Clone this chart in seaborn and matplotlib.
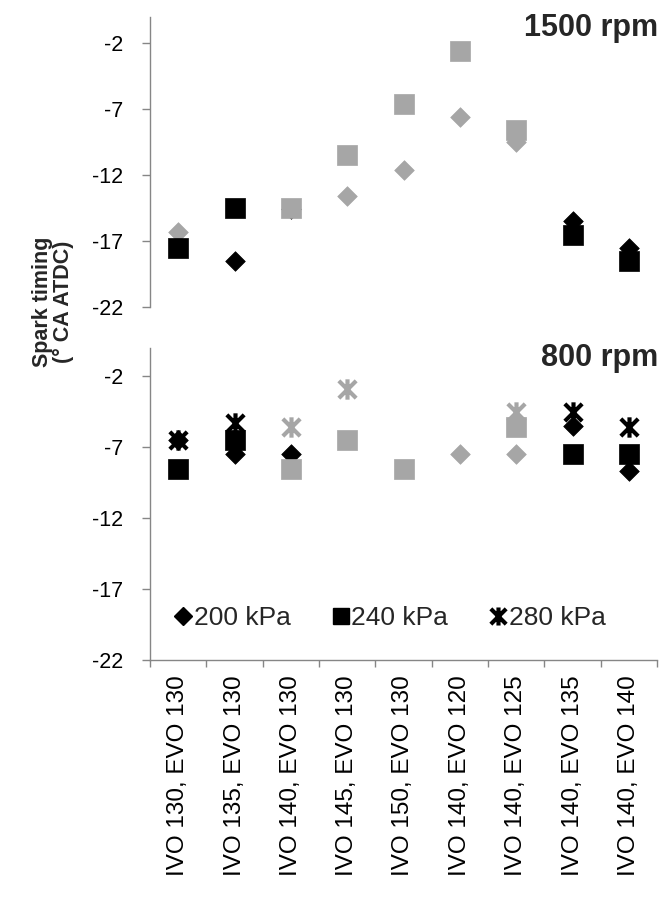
import numpy as np
import pandas as pd
import matplotlib
matplotlib.use("Agg")
import matplotlib.pyplot as plt
from matplotlib.path import Path
from matplotlib.lines import Line2D
import seaborn as sns

# ---------------- data ----------------
configs = ["IVO 130, EVO 130", "IVO 135, EVO 130", "IVO 140, EVO 130",
           "IVO 145, EVO 130", "IVO 150, EVO 130", "IVO 140, EVO 120",
           "IVO 140, EVO 125", "IVO 140, EVO 135", "IVO 140, EVO 140"]
pressures = ["200 kPa", "240 kPa", "280 kPa"]
nan = np.nan

# 1500 rpm
top_200_black = [nan, -18.5, -14.6, nan, nan, nan, nan, -15.5, -17.5]
top_200_gray = [-16.3, nan, nan, -13.6, -11.6, -7.6, -9.5, nan, nan]
top_240_black = [-17.5, -14.5, nan, nan, nan, nan, nan, -16.5, -18.5]
top_240_gray = [nan, nan, -14.5, -10.5, -6.6, -2.6, -8.6, nan, nan]
top_280_black = [nan] * 9
top_280_gray = [nan] * 9

# 800 rpm
bot_200_black = [-6.5, -7.5, -7.5, nan, nan, nan, nan, -5.5, -8.7]
bot_200_gray = [nan, nan, nan, nan, nan, -7.5, -7.5, nan, nan]
bot_240_black = [-8.5, -6.5, nan, nan, nan, nan, nan, -7.5, -7.5]
bot_240_gray = [nan, nan, -8.5, -6.5, -8.5, nan, -5.6, nan, nan]
bot_280_black = [-6.5, -5.3, nan, nan, nan, nan, nan, -4.5, -5.6]
bot_280_gray = [nan, nan, -5.6, -2.9, nan, nan, -4.5, nan, nan]

yticks = [-22, -17, -12, -7, -2]
panel_titles = ["1500 rpm", "800 rpm"]

# ---------------- styling ----------------
sns.set_theme(style="white")
plt.rcParams["font.family"] = ["Liberation Sans", "DejaVu Sans"]

BLACK = "#000000"
GRAY = "#A6A6A6"
AXC = "#868686"

star = Path([(0, -1), (0, 1), (-0.85, -0.85), (0.85, 0.85), (-0.85, 0.85), (0.85, -0.85)],
            [Path.MOVETO, Path.LINETO, Path.MOVETO, Path.LINETO, Path.MOVETO, Path.LINETO])

marker_of = {"200 kPa": "D", "240 kPa": "s", "280 kPa": star}
size_of = {"200 kPa": 100, "240 kPa": 215, "280 kPa": 215}
lw_of = {"200 kPa": 0.5, "240 kPa": 0.5, "280 kPa": 3.0}

def build(rows):
    recs = []
    for press, shade, vals in rows:
        for i, v in enumerate(vals):
            if not np.isnan(v):
                recs.append({"config": configs[i], "pos": i, "value": v,
                             "pressure": press, "shade": shade})
    return pd.DataFrame(recs)

top_df = build([("200 kPa", "black", top_200_black), ("200 kPa", "gray", top_200_gray),
                ("240 kPa", "black", top_240_black), ("240 kPa", "gray", top_240_gray),
                ("280 kPa", "black", top_280_black), ("280 kPa", "gray", top_280_gray)])
bot_df = build([("200 kPa", "black", bot_200_black), ("200 kPa", "gray", bot_200_gray),
                ("240 kPa", "black", bot_240_black), ("240 kPa", "gray", bot_240_gray),
                ("280 kPa", "black", bot_280_black), ("280 kPa", "gray", bot_280_gray)])

W, H = 661, 897
fig = plt.figure(figsize=(W / 100, H / 100), dpi=100)
ax1 = fig.add_axes([150 / W, 1 - 307 / H, 507 / W, 290 / H])
ax2 = fig.add_axes([150 / W, 1 - 660 / H, 507 / W, 312 / H])

for ax, df in [(ax1, top_df), (ax2, bot_df)]:
    for press in pressures:
        for shade, col in [("gray", GRAY), ("black", BLACK)]:
            sub = df[(df["pressure"] == press) & (df["shade"] == shade)]
            if len(sub) == 0:
                continue
            sns.scatterplot(data=sub, x="pos", y="value", ax=ax,
                            marker=marker_of[press], s=size_of[press],
                            color=col, edgecolor=col, linewidth=lw_of[press],
                            legend=False, zorder=3)
    ax.set_xlim(-0.5, len(configs) - 0.5)
    ax.set_ylim(-22, 0)
    ax.set_yticks(yticks)
    ax.set_yticklabels([str(t) for t in yticks])
    ax.set_xlabel("")
    ax.set_ylabel("")
    ax.grid(False)
    for s in ["top", "right"]:
        ax.spines[s].set_visible(False)
    ax.spines["left"].set_color(AXC)
    ax.spines["left"].set_linewidth(1.0)
    ax.tick_params(axis="y", direction="out", length=6, width=1.0, color=AXC,
                   pad=13, labelsize=15.5, labelcolor="black", left=True)
    ax.set_facecolor("none")

ax1.spines["bottom"].set_visible(False)
ax1.set_xticks([])

ax2.spines["bottom"].set_color(AXC)
ax2.spines["bottom"].set_linewidth(1.0)
ax2.set_xticks(range(len(configs)))
ax2.set_xticklabels(configs, rotation=90, ha="center", va="top")
ax2.set_xticks(np.arange(-0.5, len(configs), 1.0), minor=True)
ax2.tick_params(axis="x", which="major", length=0, pad=11, labelsize=17.5,
                labelcolor="black", bottom=True)
ax2.tick_params(axis="x", which="minor", direction="out", length=5, width=1.0,
                color=AXC, bottom=True)

# panel titles
fig.text(658 / W, 1 - 36 / H, panel_titles[0], ha="right", va="baseline",
         fontsize=22, fontweight="bold")
fig.text(658 / W, 1 - 366 / H, panel_titles[1], ha="right", va="baseline",
         fontsize=22, fontweight="bold")

# y label
fig.text(53 / W, 1 - 302 / H, "Spark timing\n(° CA ATDC)", rotation=90,
         ha="center", va="center", fontsize=15.5, fontweight="bold", linespacing=1.0)

# legend
handles = [Line2D([], [], ls="none", marker="D", ms=8.8, color=BLACK, mec=BLACK),
           Line2D([], [], ls="none", marker="s", ms=12, color=BLACK, mec=BLACK),
           Line2D([], [], ls="none", marker=star, ms=13, color=BLACK, mec=BLACK, mew=3.0)]
ax2.legend(handles, pressures, loc="center", bbox_to_anchor=(0.473, 0.135), ncol=3,
           frameon=False, fontsize=19, handlelength=0.7, handletextpad=0.05,
           columnspacing=1.55, borderaxespad=0)

fig.savefig("out.png", dpi=100)
